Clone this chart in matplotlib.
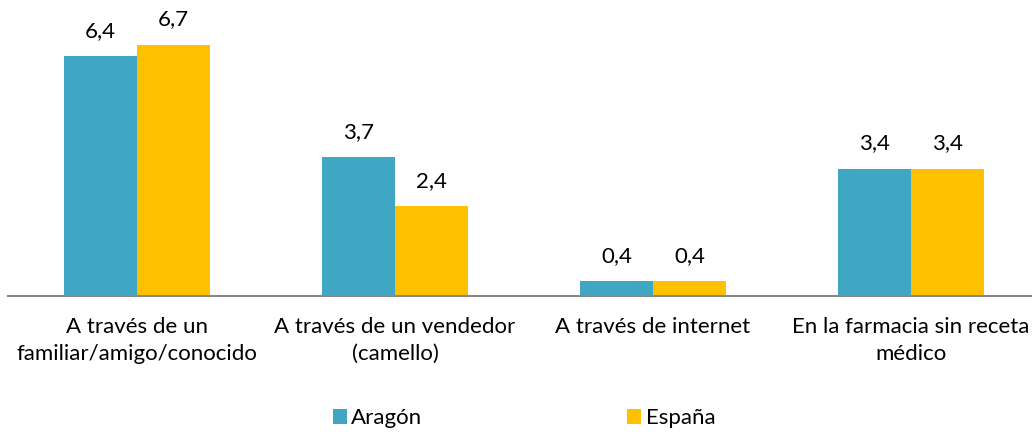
import matplotlib
matplotlib.use("Agg")
import matplotlib.pyplot as plt
import numpy as np

categories = ["A través de un\nfamiliar/amigo/conocido",
              "A través de un vendedor\n(camello)",
              "A través de internet",
              "En la farmacia sin receta\nmédico"]
aragon = [6.4, 3.7, 0.4, 3.4]
espana = [6.7, 2.4, 0.4, 3.4]
series_names = ["Aragón", "España"]
colors = ["#3FA7C4", "#FFC000"]

plt.rcParams['font.family'] = ['Lato', 'DejaVu Sans']

fig = plt.figure(figsize=(10.32, 4.32), dpi=100)
W, H = 1032, 432
left, right = 8, 1040
bottom, top = 296, 3.5
ax = fig.add_axes([left / W, 1 - bottom / H, (right - left) / W, (bottom - top) / H])

x = np.arange(len(categories))
bw = 73 / 258
b1 = ax.bar(x - bw / 2, aragon, bw, color=colors[0], label=series_names[0])
b2 = ax.bar(x + bw / 2, espana, bw, color=colors[1], label=series_names[1])

for bars, vals in ((b1, aragon), (b2, espana)):
    for r, v in zip(bars, vals):
        ax.annotate(f"{v:.1f}".replace(".", ","),
                    (r.get_x() + r.get_width() / 2, r.get_height()),
                    xytext=(0, 11), textcoords="offset points",
                    ha="center", va="bottom", fontsize=16, color="#000000")

ax.set_xlim(-0.5, len(categories) - 0.5)
ax.set_ylim(0, 7.8)
for s in ["top", "right", "left"]:
    ax.spines[s].set_visible(False)
ax.spines["bottom"].set_color("#898989")
ax.spines["bottom"].set_linewidth(1.5)
ax.set_yticks([])
ax.set_xticks(x)
ax.set_xticklabels(categories, fontsize=16, linespacing=1.45)
ax.tick_params(axis="x", length=0, pad=15)

# legend
leg = fig.legend(handles=[b1, b2], labels=series_names, loc="center",
                 bbox_to_anchor=(524 / W, 1 - 418 / H), ncol=2, frameon=False,
                 fontsize=16, handlelength=0.65, handleheight=0.65,
                 handletextpad=0.2, columnspacing=9.2)

fig.savefig("out.png", dpi=100)
